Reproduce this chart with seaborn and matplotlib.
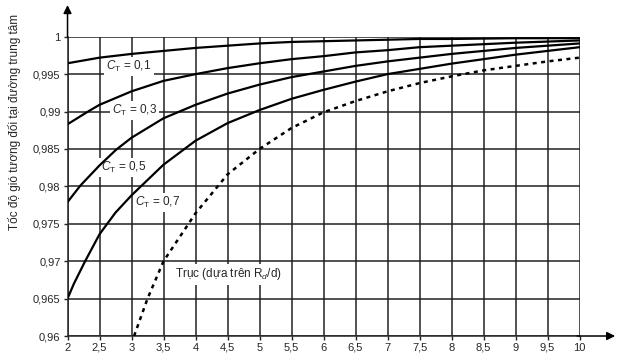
#####----- Relative wind speed at the wake centreline vs distance (R/d)

#####----- IMPORTS
import numpy as np
import pandas as pd
import seaborn as sns
import matplotlib.pyplot as plt

#####----- DATA
x_01 = [2, 2.5, 3, 3.5, 4, 4.5, 5, 5.5, 6, 6.5, 7, 7.5, 8, 9, 10]
ct_01 = [0.99645, 0.9972, 0.9977, 0.9981, 0.9985, 0.9988, 0.9991, 0.9993,
         0.9994, 0.9995, 0.9996, 0.9997, 0.9997, 0.9998, 0.9998]
x_03 = [2, 2.32, 2.5, 3, 3.5, 4, 4.5, 5, 5.5, 6, 6.5, 7, 7.5, 8, 9, 10]
ct_03 = [0.9883, 0.9900, 0.9909, 0.9927, 0.9941, 0.9950, 0.9958, 0.99645,
         0.9970, 0.9974, 0.9979, 0.9982, 0.9986, 0.9988, 0.9992, 0.9995]
x_05 = [2, 2.2, 2.5, 2.76, 3, 3.5, 4, 4.5, 5, 5.5, 6, 6.5, 7, 7.5, 8, 9, 10]
ct_05 = [0.9779, 0.9801, 0.9828, 0.9849, 0.9865, 0.9891, 0.9909, 0.9924,
         0.9936, 0.9946, 0.99535, 0.9961, 0.9967, 0.9972, 0.9977, 0.9985, 0.9991]
x_07 = [2, 2.1, 2.275, 2.5, 2.75, 3, 3.5, 4, 4.5, 5, 5.5, 6, 6.5, 7, 7.5, 8, 9, 10]
ct_07 = [0.9650, 0.9670, 0.9700, 0.9736, 0.9765, 0.9788, 0.9829, 0.9861,
         0.98845, 0.9902, 0.9917, 0.9929, 0.9940, 0.9950, 0.9957, 0.9964,
         0.9976, 0.9986]

x_axis = [3.04, 3.25, 3.5, 4, 4.5, 5, 5.5, 6, 6.5, 7, 7.5, 8, 8.5, 9, 9.5, 10]
axis_rd = [0.9600, 0.9650, 0.9700, 0.9764, 0.9816, 0.9850, 0.9878, 0.9899,
           0.9914, 0.9927, 0.9938, 0.9947, 0.9955, 0.9961, 0.9967, 0.9972]

x_ticks = [2, 2.5, 3, 3.5, 4, 4.5, 5, 5.5, 6, 6.5, 7, 7.5, 8, 8.5, 9, 9.5, 10]
y_ticks = [0.96, 0.965, 0.97, 0.975, 0.98, 0.985, 0.99, 0.995, 1]

labels = ["$C_\\mathrm{T}$ = 0,1", "$C_\\mathrm{T}$ = 0,3",
          "$C_\\mathrm{T}$ = 0,5", "$C_\\mathrm{T}$ = 0,7"]
label_pos = [(2.96, 0.9960), (3.05, 0.9901), (2.88, 0.98254), (3.41, 0.97787)]
axis_label = "Trục (dựa trên R$_d$/d)"
y_title = "Tốc độ gió tương đối tại đường trung tâm"

#####----- STYLE
sns.set_style("ticks")
plt.rcParams['font.family'] = ['Liberation Sans', 'DejaVu Sans']
plt.rcParams['mathtext.fontset'] = 'custom'
plt.rcParams['mathtext.rm'] = 'Liberation Sans'
plt.rcParams['mathtext.it'] = 'Liberation Sans:italic'

fig = plt.figure(figsize=(6.27, 3.55), dpi=100)
ax = fig.add_axes([0.1077, 0.0535, 0.8166, 0.8431])

for xs, ys in [(x_01, ct_01), (x_03, ct_03), (x_05, ct_05), (x_07, ct_07)]:
    sns.lineplot(x=xs, y=ys, color='black', linewidth=1.6, ax=ax, zorder=3)
sns.lineplot(x=x_axis, y=axis_rd, color='black', linewidth=1.8, ax=ax, zorder=3,
             linestyle=(0, (1.6, 1.8)))

ax.set_xlim(2, 10)
ax.set_ylim(0.96, 1)
ax.set_xticks(x_ticks)
ax.set_yticks(y_ticks)
ax.set_xticklabels([str(v).replace('.', ',') for v in x_ticks])
ax.set_yticklabels([("%g" % v).replace('.', ',') for v in y_ticks])
ax.tick_params(labelsize=8, length=3, width=1, color='#222222', pad=2)
ax.grid(True, color='#222222', linewidth=1.1)
ax.set_axisbelow(True)
for s in ['top', 'right']:
    ax.spines[s].set_visible(False)
for s in ['left', 'bottom']:
    ax.spines[s].set_linewidth(1.1)

# arrows on the axes
ax.annotate('', xy=(0, 1.115), xytext=(0, 0.99), xycoords='axes fraction',
            arrowprops=dict(arrowstyle='-|>', color='black', lw=1.1,
                            mutation_scale=12), annotation_clip=False)
ax.annotate('', xy=(1.075, 0), xytext=(0.99, 0), xycoords='axes fraction',
            arrowprops=dict(arrowstyle='-|>', color='black', lw=1.1,
                            mutation_scale=12), annotation_clip=False)

# labels sit above the grid but below the curves
for txt, (lx, ly) in zip(labels, label_pos):
    ax.text(lx, ly, txt, fontsize=8.5, ha='center', va='center', zorder=2,
            bbox=dict(facecolor='white', edgecolor='none', pad=1.5))
ax.text(4.52, 0.96823, axis_label, fontsize=8.5, ha='center', va='center', zorder=2,
        bbox=dict(facecolor='white', edgecolor='none', pad=1.5))

fig.text(15 / 627, 1 - 122 / 355, y_title, rotation=90, fontsize=8.5,
         ha='center', va='center')

plt.savefig("out.png", dpi=100)
